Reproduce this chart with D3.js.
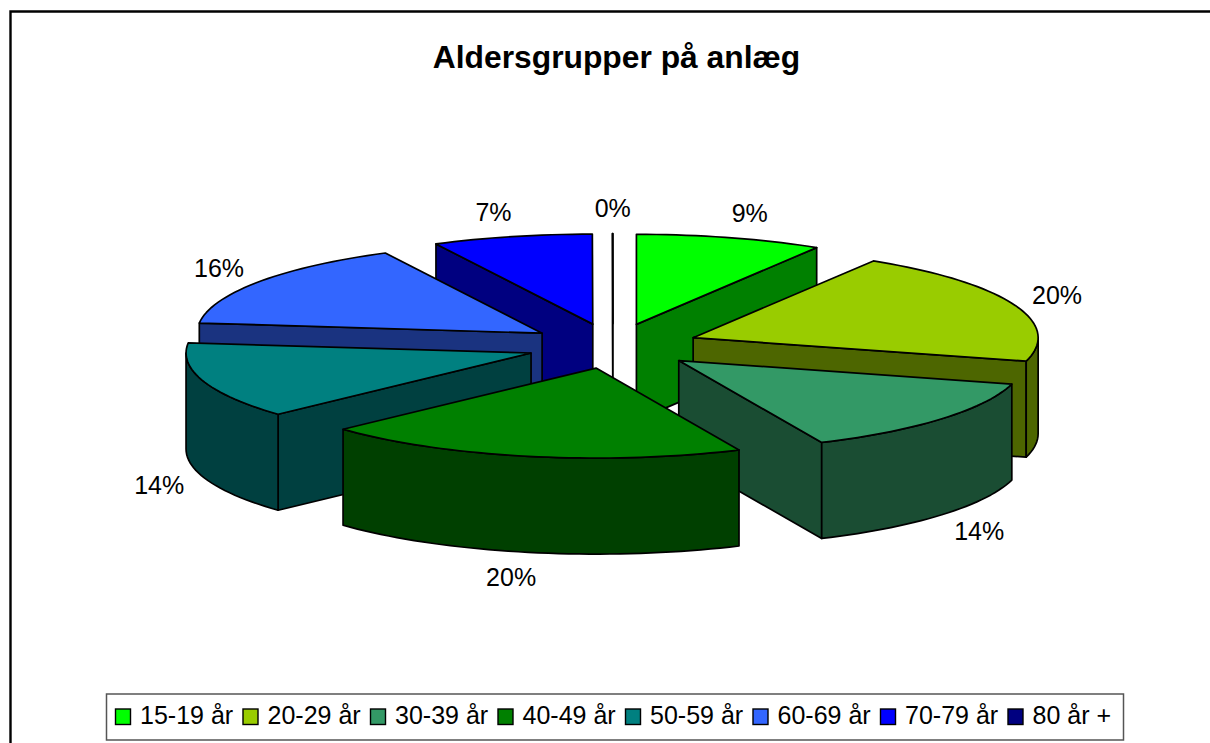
<!DOCTYPE html>
<html>
<head>
<meta charset="utf-8">
<title>Aldersgrupper på anlæg</title>
<script src="https://cdn.jsdelivr.net/npm/d3@7"></script>
<style>
  html, body { margin: 0; padding: 0; background: #fff; }
  svg { display: block; font-family: "Liberation Sans", Arial, sans-serif; }
</style>
</head>
<body>
<svg id="chart" width="1210" height="743"></svg>
<script>
// values, the labels round them to whole percents
const categories = ["15-19 år", "20-29 år", "30-39 år", "40-49 år", "50-59 år", "60-69 år", "70-79 år", "80 år +"];
const shares = [8.75, 20.45, 14, 19.9, 13.7, 15.69, 7.49, 0.02];
const topColors = ["#00ff00", "#99cc00", "#339966", "#008000", "#008080", "#3366ff", "#0000ff", "#000080"];
const sideColors = ["#008000", "#4d6600", "#1a4d33", "#004000", "#004040", "#1a3380", "#000080", "#000040"];

const width = 1210, height = 743;
const cx = 613, cy = 346;
const rx = 345, ry = 90;
const depth = 96;
const explode = 0.25;
const labelRadiusX = 1.104;
const labelRadiusY = 1.28;
const labelPush = 10;

const svg = d3.select("#chart");

// unit circle -> squashed pie plane
const x = d3.scaleLinear().domain([-1, 1]).range([cx - rx, cx + rx]);
const y = d3.scaleLinear().domain([-1, 1]).range([cy - ry, cy + ry]);

const pie = d3.pie().sort(null).value(d => d.share);
const slices = pie(categories.map((name, i) => ({ name, share: shares[i], i })));

const line = d3.line();

function arcPoints(a0, a1, ox, oy, dz) {
    const n = Math.max(2, Math.ceil((a1 - a0) / 0.03));
    return d3.range(n + 1).map(k => {
        const a = a0 + (a1 - a0) * k / n;
        return [x(ox + Math.sin(a)), y(oy - Math.cos(a)) + dz];
    });
}

slices.forEach(s => {
    s.mid = (s.startAngle + s.endAngle) / 2;
    s.ox = explode * Math.sin(s.mid);
    s.oy = -explode * Math.cos(s.mid);
});

// frame, runs off the right and bottom of the page
svg.append("path")
    .attr("d", line([[10.5, height], [10.5, 11.5], [width, 11.5]]))
    .attr("fill", "none")
    .attr("stroke", "#000")
    .attr("stroke-width", 2.4);

svg.append("text")
    .attr("x", 616.5)
    .attr("y", 68)
    .attr("text-anchor", "middle")
    .attr("font-size", 31.8)
    .attr("font-weight", "bold")
    .text("Aldersgrupper på anlæg");

// back slices first
const ordered = slices.slice().sort((a, b) => a.oy - b.oy);

const g = svg.append("g")
    .attr("stroke", "#000")
    .attr("stroke-width", 1.7)
    .attr("stroke-linejoin", "round");

ordered.forEach(s => {
    const apex = [x(s.ox), y(s.oy)];
    const apexLow = [apex[0], apex[1] + depth];
    const rim = arcPoints(s.startAngle, s.endAngle, s.ox, s.oy, 0);
    const side = s.data.i;

    // only the cut face that looks towards us
    const cutFaces = [];
    if (Math.sin(s.startAngle) < 0) cutFaces.push(rim[0]);
    if (Math.sin(s.endAngle) > 0) cutFaces.push(rim[rim.length - 1]);
    cutFaces.forEach(p => {
        g.append("path")
            .attr("d", line([apex, p, [p[0], p[1] + depth], apexLow]) + "Z")
            .attr("fill", sideColors[side]);
    });

    // the part of the rim that faces us
    const a0 = Math.max(s.startAngle, Math.PI / 2);
    const a1 = Math.min(s.endAngle, Math.PI * 1.5);
    if (a1 > a0) {
        const upper = arcPoints(a0, a1, s.ox, s.oy, 0);
        const lower = arcPoints(a0, a1, s.ox, s.oy, depth).reverse();
        g.append("path")
            .attr("d", line(upper.concat(lower)) + "Z")
            .attr("fill", sideColors[side]);
    }

    g.append("path")
        .attr("d", line([apex].concat(rim)) + "Z")
        .attr("fill", topColors[side]);
});

// percent labels, pushed sideways except the one straight on top
function labelX(d) {
    const sin = Math.sin(d.mid);
    const push = Math.abs(sin) < 0.05 ? 0 : Math.sign(sin) * labelPush;
    return x(d.ox + labelRadiusX * sin) + push;
}

svg.append("g")
    .attr("font-size", 25)
    .attr("text-anchor", "middle")
    .attr("fill", "#000")
    .selectAll("text")
    .data(slices)
    .join("text")
    .attr("x", labelX)
    .attr("y", d => y(d.oy - labelRadiusY * Math.cos(d.mid)) + (Math.cos(d.mid) < 0 ? depth : 0) + 9)
    .text(d => Math.round(d.data.share) + "%");

// legend
const legendX = d3.scaleBand().domain(categories).range([115, 1135]);

svg.append("rect")
    .attr("x", 106.5)
    .attr("y", 694)
    .attr("width", 1017)
    .attr("height", 46)
    .attr("fill", "#fff")
    .attr("stroke", "#555")
    .attr("stroke-width", 1.5);

const legend = svg.append("g")
    .selectAll("g")
    .data(categories)
    .join("g")
    .attr("transform", d => `translate(${legendX(d)},0)`);

legend.append("rect")
    .attr("x", 0.5)
    .attr("y", 709)
    .attr("width", 15)
    .attr("height", 15.5)
    .attr("fill", (d, i) => topColors[i])
    .attr("stroke", "#000")
    .attr("stroke-width", 1.4);

legend.append("text")
    .attr("x", 25)
    .attr("y", 724)
    .attr("font-size", 25)
    .text(d => d);
</script>
</body>
</html>
